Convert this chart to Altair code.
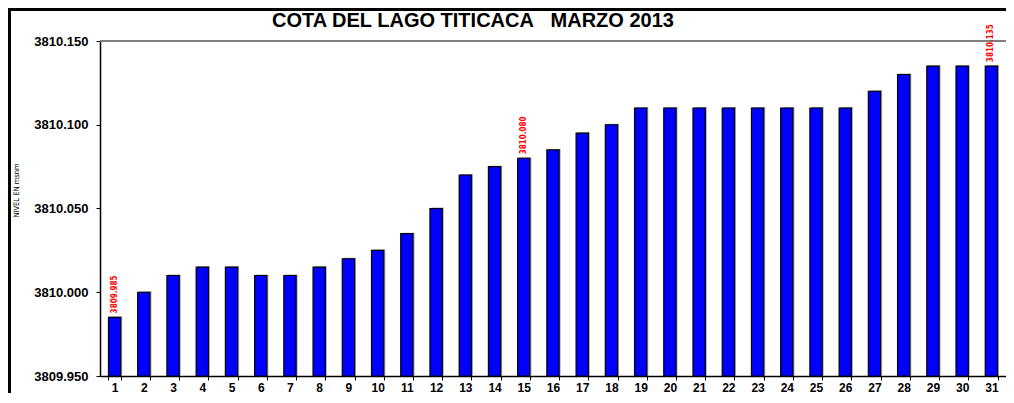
import altair as alt
import pandas as pd

days = list(range(1, 32))
levels = [3809.985, 3810.000, 3810.010, 3810.015, 3810.015, 3810.010, 3810.010,
          3810.015, 3810.020, 3810.025, 3810.035, 3810.050, 3810.070, 3810.075,
          3810.080, 3810.085, 3810.095, 3810.100, 3810.110, 3810.110, 3810.110,
          3810.110, 3810.110, 3810.110, 3810.110, 3810.110, 3810.120, 3810.130,
          3810.135, 3810.135, 3810.135]
labeled_days = [1, 15, 31]
y_min, y_max = 3809.950, 3810.150
y_ticks = [3809.950, 3810.000, 3810.050, 3810.100, 3810.150]
title_text = ["COTA DEL LAGO TITICACA\u00a0\u00a0\u00a0MARZO 2013"]

df = pd.DataFrame({"day": days, "level": levels})
df["label"] = df["level"].map(lambda v: f"{v:.3f}")
df["base"] = y_min
lab_df = df[df["day"].isin(labeled_days)]

FONT = "Liberation Sans"
NARROW = "DejaVu Sans Condensed, Liberation Sans"

x_enc = alt.X("day:O", title=None,
              scale=alt.Scale(paddingInner=0.58, paddingOuter=0.29),
              axis=alt.Axis(labelAngle=0, labelFont=FONT, labelFontWeight="bold",
                            labelFontSize=12, labelColor="black", domainColor="black",
                            tickColor="black", tickSize=4, tickBand="extent",
                            labelPadding=2, domainWidth=1.5))
y_scale = alt.Scale(domain=[y_min, y_max], zero=False, nice=False)

shadow = alt.Chart(df).mark_bar(color="#a8a8a8", xOffset=1.5, yOffset=-1).encode(
    x=x_enc, y=alt.Y("level:Q", scale=y_scale), y2="base:Q")

bars = alt.Chart(df).mark_bar(color="#0000ff", stroke="black", strokeWidth=1.2).encode(
    x=x_enc,
    y=alt.Y("level:Q", scale=y_scale, title="NIVEL EN msnm",
            axis=alt.Axis(values=y_ticks, format=".3f", grid=False, labelFont=FONT,
                          labelFontWeight="bold", labelFontSize=13, labelColor="black",
                          domainColor="black", tickColor="black", tickSize=4,
                          domainWidth=1.5, labelPadding=8, titleFont=NARROW,
                          titleFontSize=7.5, titleFontWeight="normal", titleColor="black",
                          titleX=-80, titleY=149)),
    y2="base:Q",
)

labels = alt.Chart(lab_df).mark_text(angle=270, align="left", baseline="middle",
                                     dx=4, color="#ff0000", font=NARROW,
                                     fontWeight="bold", fontSize=8).encode(
    x="day:O", y=alt.Y("level:Q", scale=y_scale), text="label:N")

top_line = alt.Chart(pd.DataFrame({"v": [y_max]})).mark_rule(
    color="#808080", strokeWidth=2).encode(y=alt.Y("v:Q", scale=y_scale))

frame_left = alt.Chart(pd.DataFrame({"a": [0]})).mark_rule(
    color="black", strokeWidth=3).encode(
    x=alt.value(-90.5), y=alt.value(-33), y2=alt.value(400))
frame_top = alt.Chart(pd.DataFrame({"a": [0]})).mark_rule(
    color="black", strokeWidth=3).encode(
    x=alt.value(-92), x2=alt.value(1000), y=alt.value(-31.5))

title = alt.Chart(pd.DataFrame({"t": title_text})).mark_text(
    font=FONT, fontSize=20, fontWeight="bold", color="black",
    align="center", baseline="alphabetic").encode(
    text="t:N", x=alt.value(373), y=alt.value(-14))

chart = alt.layer(top_line, shadow, bars, labels, frame_left, frame_top, title).properties(
    width=906, height=335,
    autosize=alt.AutoSizeParams(type="none"),
    padding={"left": 92, "top": 33, "right": 0, "bottom": 17},
).configure_view(stroke=None).configure(background="white")

chart.save("out.html", embed_options={"renderer": "svg", "actions": False})
